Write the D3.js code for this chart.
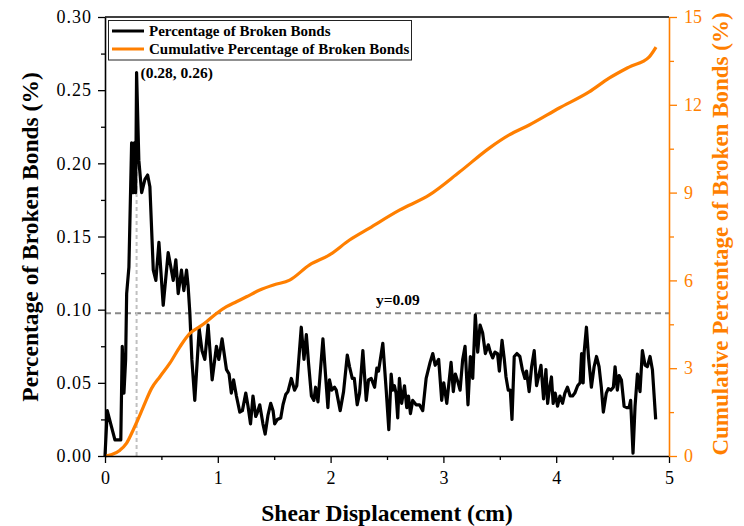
<!DOCTYPE html>
<html>
<head>
<meta charset="utf-8">
<script src="https://cdn.jsdelivr.net/npm/d3@7"></script>
<style>
  html, body { margin: 0; padding: 0; background: #fff; }
  svg { display: block; }
  .tick text { font-family: "Liberation Serif", serif; }
</style>
</head>
<body>
<svg id="chart" width="744" height="526"></svg>
<script>
// ---------- data ----------
const xTicks = [0, 1, 2, 3, 4, 5];
const yTicks = [0, 0.05, 0.10, 0.15, 0.20, 0.25, 0.30];
const y2Ticks = [0, 3, 6, 9, 12, 15];

const brokenX = [0, 0.02, 0.088, 0.14, 0.153, 0.168, 0.183, 0.192, 0.212, 0.236, 0.25, 0.26, 0.272, 0.28, 0.30, 0.325, 0.354, 0.378, 0.398, 0.428, 0.451, 0.478, 0.516, 0.56, 0.584, 0.605, 0.628, 0.649, 0.678, 0.699, 0.723, 0.737, 0.752, 0.77, 0.796, 0.835, 0.86, 0.885, 0.914, 0.95, 0.988, 1.009, 1.038, 1.077, 1.10, 1.12, 1.14, 1.165, 1.195, 1.218, 1.248, 1.268, 1.29, 1.312, 1.336, 1.348, 1.372, 1.40, 1.42, 1.445, 1.469, 1.49, 1.504, 1.528, 1.558, 1.578, 1.602, 1.622, 1.652, 1.68, 1.70, 1.74, 1.764, 1.785, 1.805, 1.83, 1.852, 1.867, 1.888, 1.932, 1.976, 1.99, 2.01, 2.035, 2.05, 2.085, 2.115, 2.148, 2.168, 2.192, 2.21, 2.236, 2.257, 2.286, 2.316, 2.336, 2.36, 2.39, 2.41, 2.425, 2.463, 2.493, 2.516, 2.537, 2.55, 2.566, 2.58, 2.595, 2.61, 2.63, 2.655, 2.675, 2.69, 2.708, 2.728, 2.758, 2.788, 2.817, 2.847, 2.882, 2.906, 2.927, 2.958, 2.985, 3.003, 3.03, 3.068, 3.088, 3.106, 3.127, 3.148, 3.171, 3.192, 3.218, 3.239, 3.26, 3.283, 3.304, 3.325, 3.348, 3.372, 3.398, 3.416, 3.437, 3.457, 3.48, 3.496, 3.52, 3.54, 3.555, 3.575, 3.593, 3.608, 3.628, 3.652, 3.678, 3.70, 3.723, 3.737, 3.76, 3.782, 3.805, 3.826, 3.843, 3.865, 3.888, 3.909, 3.924, 3.938, 3.958, 3.973, 3.991, 4.012, 4.033, 4.056, 4.077, 4.10, 4.124, 4.145, 4.165, 4.19, 4.212, 4.225, 4.239, 4.248, 4.268, 4.286, 4.312, 4.336, 4.357, 4.38, 4.40, 4.418, 4.444, 4.462, 4.484, 4.507, 4.522, 4.542, 4.558, 4.578, 4.602, 4.626, 4.646, 4.66, 4.681, 4.699, 4.72, 4.743, 4.764, 4.788, 4.808, 4.832, 4.853, 4.882];
const brokenPct = [0, 0.031, 0.011, 0.011, 0.075, 0.043, 0.066, 0.111, 0.129, 0.214, 0.18, 0.214, 0.18, 0.262, 0.202, 0.18, 0.189, 0.192, 0.184, 0.127, 0.12, 0.146, 0.103, 0.139, 0.129, 0.12, 0.134, 0.111, 0.127, 0.113, 0.127, 0.116, 0.098, 0.066, 0.038, 0.087, 0.072, 0.066, 0.0895, 0.052, 0.075, 0.066, 0.080, 0.059, 0.056, 0.043, 0.052, 0.041, 0.030, 0.031, 0.043, 0.034, 0.022, 0.041, 0.027, 0.029, 0.035, 0.022, 0.015, 0.028, 0.036, 0.031, 0.022, 0.025, 0.026, 0.035, 0.042, 0.044, 0.053, 0.045, 0.048, 0.088, 0.066, 0.083, 0.063, 0.041, 0.038, 0.047, 0.037, 0.080, 0.033, 0.052, 0.045, 0.047, 0.045, 0.031, 0.044, 0.069, 0.061, 0.053, 0.053, 0.035, 0.043, 0.072, 0.038, 0.052, 0.053, 0.047, 0.060, 0.058, 0.077, 0.045, 0.018, 0.056, 0.045, 0.048, 0.043, 0.026, 0.053, 0.036, 0.048, 0.033, 0.041, 0.029, 0.038, 0.035, 0.035, 0.031, 0.053, 0.064, 0.070, 0.062, 0.066, 0.038, 0.050, 0.036, 0.064, 0.044, 0.056, 0.051, 0.045, 0.066, 0.075, 0.035, 0.068, 0.053, 0.0965, 0.071, 0.0895, 0.084, 0.070, 0.076, 0.071, 0.067, 0.071, 0.070, 0.058, 0.079, 0.066, 0.054, 0.045, 0.045, 0.025, 0.068, 0.070, 0.068, 0.059, 0.053, 0.058, 0.044, 0.061, 0.072, 0.048, 0.054, 0.062, 0.039, 0.059, 0.036, 0.045, 0.054, 0.036, 0.043, 0.034, 0.041, 0.036, 0.043, 0.047, 0.041, 0.041, 0.043, 0.048, 0.050, 0.070, 0.050, 0.071, 0.088, 0.068, 0.047, 0.061, 0.068, 0.061, 0.047, 0.030, 0.043, 0.046, 0.045, 0.047, 0.061, 0.045, 0.055, 0.052, 0.034, 0.033, 0.033, 0.038, 0.002, 0.034, 0.056, 0.044, 0.072, 0.062, 0.061, 0.068, 0.059, 0.025];

const cumX = [0, 0.06, 0.133, 0.19, 0.25, 0.29, 0.34, 0.413, 0.487, 0.575, 0.664, 0.752, 0.84, 0.9, 0.988, 1.077, 1.165, 1.254, 1.372, 1.5, 1.637, 1.814, 1.99, 2.168, 2.345, 2.61, 2.876, 3.142, 3.407, 3.584, 3.761, 4.027, 4.292, 4.469, 4.646, 4.823, 4.885];
const cumPct = [0, 0.05, 0.2, 0.43, 0.89, 1.23, 1.68, 2.31, 2.71, 3.17, 3.73, 4.19, 4.42, 4.59, 4.87, 5.1, 5.27, 5.44, 5.67, 5.85, 6.01, 6.53, 6.87, 7.38, 7.79, 8.40, 8.92, 9.70, 10.52, 10.97, 11.31, 11.89, 12.44, 12.91, 13.29, 13.63, 13.97];

const refY = 0.0975;           // dashed reference line level
const refLabel = "y=0.09";
const peak = {x: 0.28, y: 0.262, label: "(0.28, 0.26)"};
const seriesNames = ["Percentage of Broken Bonds", "Cumulative Percentage of Broken Bonds"];

// ---------- layout ----------
const L = 105, R = 669, T = 17, B = 456;
const black = "#000", orange = "#ff7f00";
const svg = d3.select("#chart");

const x = d3.scaleLinear().domain([0, 5]).range([L, R]);
const y = d3.scaleLinear().domain([0, 0.30]).range([B, T]);
const y2 = d3.scaleLinear().domain([0, 15]).range([B, T]);

// reference lines
svg.append("line")
  .attr("x1", x(0)).attr("x2", x(5)).attr("y1", y(refY)).attr("y2", y(refY))
  .attr("stroke", "#888").attr("stroke-width", 2).attr("stroke-dasharray", "6,4");
svg.append("line")
  .attr("x1", x(peak.x)).attr("x2", x(peak.x)).attr("y1", y(0)).attr("y2", y(0.2))
  .attr("stroke", "#c0c0c0").attr("stroke-width", 2).attr("stroke-dasharray", "4,3");

// black series
const brokenData = brokenX.map((v, i) => [v, brokenPct[i]]);
svg.append("path")
  .datum(brokenData)
  .attr("fill", "none").attr("stroke", black).attr("stroke-width", 3.2)
  .attr("stroke-linejoin", "round")
  .attr("d", d3.line().x(d => x(d[0])).y(d => y(d[1])));

// orange series
const cumData = cumX.map((v, i) => [v, cumPct[i]]);
svg.append("path")
  .datum(cumData)
  .attr("fill", "none").attr("stroke", orange).attr("stroke-width", 3.2)
  .attr("stroke-linejoin", "round")
  .attr("d", d3.line().curve(d3.curveMonotoneX).x(d => x(d[0])).y(d => y2(d[1])));

// ---------- axes ----------
function styleAxis(g, color, fontSize) {
  g.select(".domain").attr("stroke", color).attr("stroke-width", 1.6);
  g.selectAll(".tick line").attr("stroke", color).attr("stroke-width", 1.3);
  g.selectAll(".tick text").attr("fill", color).attr("font-size", fontSize);
}

// x axis
const gx = svg.append("g").attr("transform", `translate(0,${B})`)
  .call(d3.axisBottom(x).tickValues(xTicks).tickFormat(d3.format("d")).tickSize(7).tickSizeOuter(0).tickPadding(8));
styleAxis(gx, black, 18);
const gxm = svg.append("g").attr("transform", `translate(0,${B})`)
  .call(d3.axisBottom(x).tickValues([0.5, 1.5, 2.5, 3.5, 4.5]).tickFormat("").tickSize(4).tickSizeOuter(0));
styleAxis(gxm, black, 18);
gxm.select(".domain").remove();

// left axis
const gy = svg.append("g").attr("transform", `translate(${L},0)`)
  .call(d3.axisLeft(y).tickValues(yTicks).tickFormat(d3.format(".2f")).tickSize(7).tickSizeOuter(0).tickPadding(6));
styleAxis(gy, black, 18);
gy.selectAll(".tick text").attr("letter-spacing", 1);
const gym = svg.append("g").attr("transform", `translate(${L},0)`)
  .call(d3.axisLeft(y).tickValues([0.025, 0.075, 0.125, 0.175, 0.225, 0.275]).tickFormat("").tickSize(4).tickSizeOuter(0));
styleAxis(gym, black, 18);
gym.select(".domain").remove();

// right axis
const gy2 = svg.append("g").attr("transform", `translate(${R},0)`)
  .call(d3.axisRight(y2).tickValues(y2Ticks).tickFormat(d3.format("d")).tickSize(8).tickSizeOuter(0).tickPadding(7));
styleAxis(gy2, orange, 18);
const gy2m = svg.append("g").attr("transform", `translate(${R},0)`)
  .call(d3.axisRight(y2).tickValues([1.5, 4.5, 7.5, 10.5, 13.5]).tickFormat("").tickSize(5).tickSizeOuter(0));
styleAxis(gy2m, orange, 18);
gy2m.select(".domain").remove();

// top border
svg.append("line").attr("x1", L).attr("x2", R).attr("y1", T).attr("y2", T)
  .attr("stroke", black).attr("stroke-width", 1.6);

// ---------- titles ----------
const titleFont = "'Liberation Serif', 'Times New Roman', serif";
svg.append("text").attr("x", 387).attr("y", 521)
  .attr("text-anchor", "middle").attr("font-family", titleFont).attr("font-weight", "bold")
  .attr("font-size", 23.5).text("Shear Displacement (cm)");
svg.append("text").attr("transform", "translate(38,237) rotate(-90)")
  .attr("text-anchor", "middle").attr("font-family", titleFont).attr("font-weight", "bold")
  .attr("font-size", 23.5).text("Percentage of Broken Bonds (%)");
svg.append("text").attr("transform", "translate(728,234) rotate(-90)")
  .attr("text-anchor", "middle").attr("font-family", titleFont).attr("font-weight", "bold")
  .attr("font-size", 23).attr("fill", orange).text("Cumulative Percentage of Broken Bonds (%)");

// annotations
svg.append("text").attr("x", x(peak.x) + 4).attr("y", 78)
  .attr("font-family", titleFont).attr("font-weight", "bold").attr("font-size", 15.5)
  .text(peak.label);
svg.append("text").attr("x", 376).attr("y", 305)
  .attr("font-family", titleFont).attr("font-weight", "bold").attr("font-size", 15.5)
  .text(refLabel);

// ---------- legend ----------
const lg = svg.append("g");
lg.append("rect").attr("x", 108.5).attr("y", 20.5).attr("width", 303).attr("height", 39.5)
  .attr("fill", "#fff").attr("stroke", "#222").attr("stroke-width", 1);
[black, orange].forEach((c, i) => {
  const cy = 31 + i * 18;
  lg.append("line").attr("x1", 112).attr("x2", 144).attr("y1", cy).attr("y2", cy)
    .attr("stroke", c).attr("stroke-width", 3);
  lg.append("text").attr("x", 149).attr("y", cy + 5)
    .attr("font-family", titleFont).attr("font-weight", "bold").attr("font-size", 15)
    .text(seriesNames[i]);
});
</script>
</body>
</html>
